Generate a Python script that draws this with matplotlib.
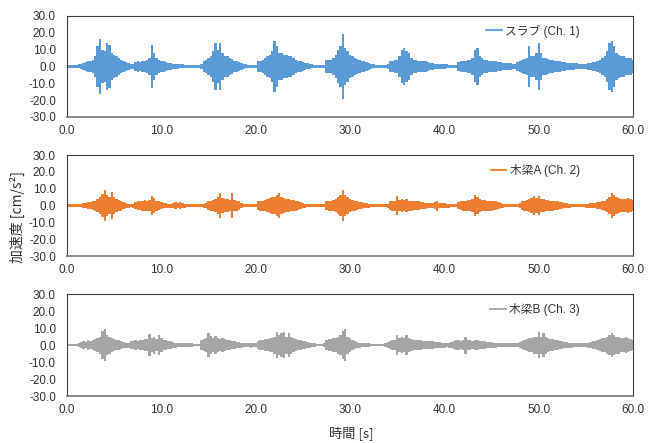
import matplotlib.pyplot as plt
import numpy as np
from matplotlib.lines import Line2D

plt.rcParams['font.family'] = ['Liberation Sans', 'Noto Sans CJK JP']
plt.rcParams['font.size'] = 8.5

# 時刻軸 (0.25 s 刻み) と各チャンネルの振幅包絡 [cm/s²]
t = np.arange(0, 60.25, 0.25)

ch1 = [
    1.0, 0.8, 1.0, 0.9, 1.0, 1.2, 1.5, 2.0, 2.5, 3.5, 3.0, 4.0, 6.0, 12.0, 16.5, 10.0,
    9.0, 14.0, 13.0, 8.0, 7.0, 6.0, 5.0, 4.0, 3.0, 2.5, 2.0, 1.5, 1.5, 2.5, 3.0, 2.5,
    3.5, 3.0, 4.0, 5.0, 13.0, 8.0, 5.0, 4.0, 3.5, 3.0, 2.5, 2.0, 2.0, 1.5, 1.5, 1.5,
    1.2, 1.2, 1.0, 1.0, 1.0, 1.0, 0.9, 1.0, 1.0, 1.5, 3.0, 4.0, 5.0, 6.0, 9.0, 14.0,
    10.0, 14.0, 8.0, 6.0, 6.0, 5.0, 4.5, 3.5, 3.0, 2.5, 2.0, 1.5, 1.2, 1.0, 1.0, 1.0,
    1.0, 3.0, 3.5, 4.0, 5.0, 6.0, 7.0, 9.0, 15.0, 12.0, 8.0, 8.0, 7.0, 7.0, 6.0, 6.0,
    5.0, 4.0, 3.5, 3.0, 2.5, 2.0, 1.8, 1.5, 1.2, 1.0, 1.0, 1.0, 1.0, 1.0, 4.0, 4.0,
    4.0, 5.0, 7.0, 10.0, 12.0, 19.5, 11.0, 9.0, 7.0, 6.0, 5.0, 4.5, 4.0, 3.5, 3.0, 2.5,
    2.0, 1.5, 1.2, 1.0, 1.0, 1.0, 1.0, 1.0, 1.5, 3.0, 3.5, 4.0, 4.0, 6.0, 10.0, 11.0,
    9.0, 8.0, 5.0, 4.0, 4.0, 3.5, 3.5, 3.0, 3.0, 2.5, 2.0, 2.0, 1.5, 1.5, 1.5, 1.5,
    1.5, 1.2, 1.0, 1.0, 1.0, 1.0, 2.5, 3.0, 3.5, 3.0, 4.0, 4.0, 5.0, 9.5, 11.0, 6.0,
    5.0, 4.0, 4.0, 3.5, 3.5, 3.0, 3.0, 2.5, 2.5, 2.0, 2.0, 2.0, 2.0, 1.5, 1.5, 2.5,
    3.0, 4.0, 4.5, 5.0, 12.0, 6.0, 6.0, 8.0, 14.0, 8.0, 5.0, 5.0, 4.5, 4.0, 4.0, 3.5,
    3.0, 3.0, 2.5, 2.5, 2.0, 2.0, 2.0, 2.0, 1.8, 1.5, 1.5, 1.5, 1.5, 2.0, 2.0, 2.5,
    2.5, 3.0, 4.0, 5.0, 6.0, 9.0, 14.0, 15.0, 12.0, 8.0, 7.0, 6.0, 6.0, 5.0, 5.0, 5.0,
    4.0,
]

ch2 = [
    0.8, 0.8, 0.8, 0.8, 0.8, 0.8, 1.0, 1.5, 1.5, 2.0, 2.0, 2.5, 3.0, 4.0, 5.0, 7.0,
    9.4, 6.0, 5.0, 8.0, 5.0, 4.0, 3.5, 3.0, 2.0, 1.5, 1.2, 1.0, 1.2, 2.0, 2.5, 2.5,
    3.0, 3.5, 3.0, 3.5, 5.6, 4.5, 3.0, 2.5, 2.0, 1.5, 1.5, 1.2, 1.2, 1.5, 2.0, 1.5,
    2.0, 1.5, 1.2, 1.0, 1.0, 1.0, 1.0, 1.0, 1.0, 1.0, 1.2, 1.5, 2.5, 3.0, 3.5, 4.0,
    5.0, 7.2, 4.5, 4.0, 4.0, 3.5, 7.6, 3.5, 3.0, 2.5, 1.5, 1.0, 1.0, 0.8, 0.8, 0.8,
    0.8, 2.5, 3.0, 3.0, 3.5, 4.0, 4.5, 5.0, 5.0, 6.0, 7.5, 5.0, 4.5, 4.0, 4.0, 3.5,
    3.5, 3.0, 2.5, 2.0, 1.5, 1.2, 1.0, 1.0, 0.8, 0.8, 0.8, 0.8, 0.8, 0.8, 2.5, 3.0,
    3.0, 3.5, 4.0, 5.0, 6.0, 9.4, 6.0, 5.0, 4.0, 3.5, 3.0, 2.5, 2.0, 2.0, 1.5, 1.5,
    1.2, 1.0, 1.0, 1.0, 0.8, 0.8, 0.8, 0.8, 1.2, 2.5, 3.0, 3.0, 5.6, 3.5, 4.0, 3.5,
    4.0, 3.0, 3.0, 2.5, 2.5, 2.5, 2.0, 2.0, 1.8, 1.5, 1.5, 1.5, 2.0, 3.0, 1.5, 1.5,
    1.5, 1.2, 1.2, 1.0, 1.0, 1.0, 2.0, 2.5, 3.0, 3.0, 3.5, 3.5, 4.0, 6.2, 5.0, 4.0,
    3.5, 3.5, 3.0, 3.0, 3.0, 2.5, 2.5, 2.0, 1.5, 1.2, 1.0, 1.0, 1.0, 1.0, 1.0, 1.0,
    1.5, 2.5, 3.0, 3.5, 4.0, 4.5, 5.6, 4.5, 5.6, 4.0, 4.0, 3.5, 3.5, 3.0, 3.0, 2.5,
    2.5, 2.0, 2.0, 1.5, 1.5, 1.2, 1.0, 1.0, 1.0, 1.0, 1.0, 1.0, 1.2, 1.2, 1.5, 1.5,
    1.5, 2.0, 2.0, 2.5, 3.0, 4.0, 5.0, 7.2, 6.0, 5.0, 4.5, 4.0, 4.0, 4.0, 4.5, 4.0,
    3.5,
]

ch3 = [
    0.8, 0.8, 0.8, 0.8, 0.8, 1.0, 2.0, 2.5, 2.0, 3.0, 2.5, 3.0, 3.5, 4.0, 5.0, 8.4,
    9.6, 6.0, 5.0, 4.0, 3.5, 3.0, 3.0, 2.5, 2.0, 1.5, 1.5, 2.5, 2.5, 3.0, 2.5, 3.0,
    3.0, 3.5, 3.5, 6.4, 4.0, 5.0, 3.5, 6.0, 4.0, 3.0, 3.0, 2.5, 2.5, 2.0, 1.5, 1.2,
    1.0, 1.0, 1.0, 1.0, 1.0, 1.0, 0.8, 0.8, 0.8, 3.0, 3.5, 4.0, 7.0, 5.5, 4.0, 5.5,
    4.0, 3.5, 4.0, 3.5, 3.0, 3.0, 2.5, 2.5, 2.0, 2.0, 1.5, 1.2, 1.0, 1.0, 1.5, 1.0,
    1.0, 2.5, 3.0, 3.0, 3.5, 3.5, 4.0, 4.0, 5.0, 7.4, 6.0, 7.0, 7.8, 5.0, 7.0, 5.0,
    4.0, 3.5, 3.0, 3.0, 2.5, 2.5, 2.0, 1.5, 1.2, 1.0, 0.8, 0.8, 0.8, 1.0, 3.0, 3.5,
    3.5, 4.0, 4.0, 5.0, 6.0, 8.4, 9.6, 5.0, 4.0, 3.0, 2.5, 2.0, 1.5, 1.2, 1.0, 1.0,
    1.0, 0.8, 0.8, 0.8, 0.8, 0.8, 0.8, 1.0, 2.0, 2.5, 3.0, 3.0, 6.0, 4.0, 4.5, 4.0,
    6.0, 4.0, 3.5, 3.0, 3.0, 3.0, 3.0, 2.5, 2.5, 2.5, 2.5, 2.5, 2.0, 2.0, 2.0, 1.5,
    1.5, 1.2, 1.5, 2.0, 2.5, 3.0, 3.0, 2.5, 3.0, 5.0, 3.0, 3.0, 2.5, 3.0, 3.0, 2.5,
    2.5, 2.5, 2.0, 2.0, 2.0, 1.5, 1.5, 1.2, 1.2, 1.2, 1.0, 1.0, 1.0, 1.0, 1.2, 1.2,
    2.0, 2.5, 3.0, 3.5, 4.0, 4.0, 5.0, 5.0, 7.5, 5.0, 7.0, 5.0, 4.0, 3.5, 3.5, 3.0,
    3.0, 2.5, 2.5, 2.0, 2.0, 1.5, 1.5, 1.2, 1.2, 1.0, 1.0, 1.0, 1.0, 1.5, 2.0, 2.5,
    2.5, 3.0, 3.5, 4.0, 4.0, 5.0, 6.0, 7.2, 6.0, 5.0, 5.0, 4.0, 4.0, 4.5, 4.0, 3.5,
    3.0,
]

labels = ['スラブ (Ch. 1)', '木梁A (Ch. 2)', '木梁B (Ch. 3)']
colors = ['#5B9BD5', '#ED7D31', '#A5A5A5']
series = [ch1, ch2, ch3]

x_ticks = [0, 10, 20, 30, 40, 50, 60]
y_ticks = [-30, -20, -10, 0, 10, 20, 30]

fig = plt.figure(figsize=(6.57, 4.43), dpi=100)

# パネル位置 (左, 下, 幅, 高さ)
boxes = [
    (0.102, 0.736, 0.8615, 0.228),
    (0.102, 0.422, 0.8615, 0.228),
    (0.102, 0.106, 0.8615, 0.2302),
]

for box, amp, lab, col in zip(boxes, series, labels, colors):
    ax = fig.add_axes(box)
    a = np.array(amp)
    ax.fill_between(t, -a, a, step='mid', color=col, linewidth=0)

    ax.set_xlim(0, 60)
    ax.set_ylim(-30, 30)
    ax.set_xticks(x_ticks)
    ax.set_xticklabels([f'{v:.1f}' for v in x_ticks])
    ax.set_yticks(y_ticks)
    ax.set_yticklabels([f'{v:.1f}' for v in y_ticks])
    ax.tick_params(axis='both', length=0, colors='#333333', labelsize=8.5)
    ax.tick_params(axis='y', pad=8)
    ax.tick_params(axis='x', pad=6)

    for s in ['left', 'top', 'right']:
        ax.spines[s].set_color('#404040')
        ax.spines[s].set_linewidth(0.8)
    ax.spines['bottom'].set_color('#808080')
    ax.spines['bottom'].set_linewidth(1.3)

    handle = Line2D([], [], color=col, linewidth=1.3)
    ax.legend([handle], [lab], loc='upper right', bbox_to_anchor=(0.925, 1.02),
              frameon=False, handlelength=1.3, handletextpad=0.3,
              fontsize=8.5, labelcolor='#333333')

fig.text(0.027, 0.51, '加速度 [cm/s²]', rotation=90, ha='center', va='center',
         fontsize=10, color='#333333', family=['Noto Sans CJK JP', 'DejaVu Sans'])
fig.text(0.534, 0.022, '時間 [s]', ha='center', va='center',
         fontsize=9.5, color='#333333', family=['Noto Sans CJK JP', 'DejaVu Sans'])

plt.savefig('out.png', dpi=100)
plt.close()
